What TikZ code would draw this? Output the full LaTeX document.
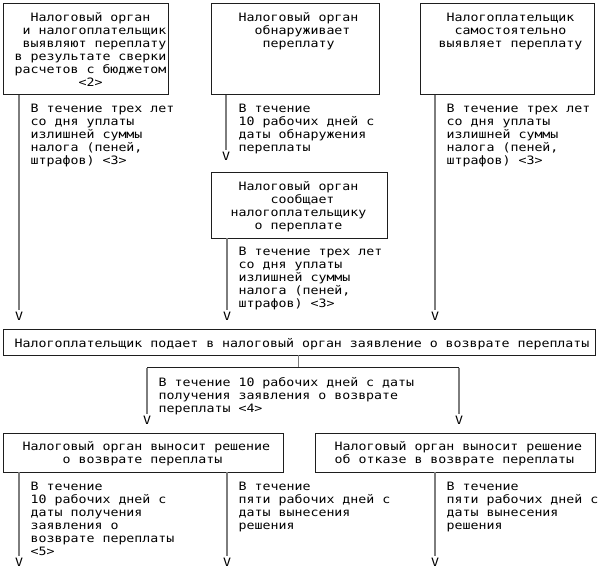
\documentclass[tikz,border=0pt]{standalone}
\usepackage{fontspec}
\newfontfamily\mono[FakeStretch=1.15]{DejaVu Sans Mono}
\newcommand\fl{\rule{0pt}{10pt}}
\newcommand\pad[1]{\hphantom{#1}}
\definecolor{conngray}{RGB}{125,125,125}
\definecolor{boxline}{RGB}{30,30,30}
\tikzset{
  box/.style={draw=boxline, line width=1pt, inner sep=0pt, outer sep=0pt},
  txt/.style={font=\mono\fontsize{11.53}{13}\selectfont, inner sep=0pt, anchor=north west, align=left, text=black},
  vmark/.style={font=\mono\fontsize{11.53}{13}\selectfont, inner sep=0pt, text=black},
  conn/.style={draw=conngray, line width=1.5pt},
  split/.style={draw=boxline, line width=1pt}
}
\begin{document}
\begin{tikzpicture}[x=1pt,y=-1pt]
\useasboundingbox (0,0) rectangle (599,572);
% top boxes
\node[box, minimum width=165, minimum height=91] (b1) at (85.5,49.5) {};
\node[box, minimum width=168, minimum height=91] (b2) at (295,49.5) {};
\node[box, minimum width=174, minimum height=91] (b3) at (507,49.5) {};
\node[txt] (t1) at (14.5,11) {\fl\pad{xx}Налоговый орган\\\pad{x}и налогоплательщик\\\pad{x}выявляют переплату\\в результате сверки\\расчетов с бюджетом\\\pad{xxxxxxxx}<2>};
\node[txt] (t2) at (238.5,11) {\fl Налоговый орган\\\pad{xx}обнаруживает\\\pad{xxx}переплату};
\node[txt] (t3) at (438.5,11) {\fl\pad{x}Налогоплательщик\\\pad{xx}самостоятельно\\выявляет переплату};
% box 4
\node[box, minimum width=176, minimum height=65] (b4) at (299,205.5) {};
\node[txt] (t4) at (230.5,180) {\fl\pad{x}Налоговый орган\\\pad{xxxxx}сообщает\\налогоплательщику\\\pad{xxx}о переплате};
% main box
\node[box, minimum width=592, minimum height=26] (m) at (299,342) {};
\node[txt] (tm) at (14.5,337) {\fl Налогоплательщик подает в налоговый орган заявление о возврате переплаты};
% bottom boxes
\node[box, minimum width=280, minimum height=39] (b5) at (143,452.5) {};
\node[box, minimum width=280, minimum height=39] (b6) at (455,452.5) {};
\node[txt] (t5) at (22.5,440) {\fl Налоговый орган выносит решение\\\pad{xxxxx}о возврате переплаты};
\node[txt] (t6) at (334.5,440) {\fl Налоговый орган выносит решение\\об отказе в возврате переплаты};
% side texts
\node[txt] (s1) at (30.5,102) {\fl В течение трех лет\\со дня уплаты\\излишней суммы\\налога (пеней,\\штрафов) <3>};
\node[txt] (s2) at (238.5,102) {\fl В течение\\10 рабочих дней с\\даты обнаружения\\переплаты};
\node[txt] (s3) at (446.5,102) {\fl В течение трех лет\\со дня уплаты\\излишней суммы\\налога (пеней,\\штрафов) <3>};
\node[txt] (s4) at (238.5,245) {\fl В течение трех лет\\со дня уплаты\\излишней суммы\\налога (пеней,\\штрафов) <3>};
\node[txt] (s5) at (158.5,376) {\fl В течение 10 рабочих дней с даты\\получения заявления о возврате\\переплаты <4>};
\node[txt] (s6) at (30.5,480) {\fl В течение\\10 рабочих дней с\\даты получения\\заявления о\\возврате переплаты\\<5>};
\node[txt] (s7) at (238.5,480) {\fl В течение\\пяти рабочих дней с\\даты вынесения\\решения};
\node[txt] (s8) at (446.5,480) {\fl В течение\\пяти рабочих дней с\\даты вынесения\\решения};
% arrow marks
\node[vmark] (v1) at (19,316) {V};
\node[vmark] (v2) at (226,156) {V};
\node[vmark] (v3) at (227,316) {V};
\node[vmark] (v4) at (435,316) {V};
\node[vmark] (v5) at (147,420) {V};
\node[vmark] (v6) at (459,420) {V};
\node[vmark] (v7) at (19,562) {V};
\node[vmark] (v8) at (227,562) {V};
\node[vmark] (v9) at (435,562) {V};
% connectors
\draw[conn] (b1.south -| v1) -- ([yshift=2pt]v1.north);
\draw[conn] (b2.south -| v2) -- ([yshift=2pt]v2.north);
\draw[conn] (b4.south -| v3) -- ([yshift=2pt]v3.north);
\draw[conn] (b3.south -| v4) -- ([yshift=2pt]v4.north);
\coordinate (sp) at (298.5,367.5);
\draw[conn] (m.south -| sp) -- (sp);
\draw[split] (sp -| v5) -- (sp -| v6);
\draw[conn] (sp -| v5) -- ([yshift=2pt]v5.north);
\draw[conn] (sp -| v6) -- ([yshift=2pt]v6.north);
\draw[conn] (b5.south -| v7) -- ([yshift=2pt]v7.north);
\draw[conn] (b5.south -| v8) -- ([yshift=2pt]v8.north);
\draw[conn] (b6.south -| v9) -- ([yshift=2pt]v9.north);
\end{tikzpicture}
\end{document}
